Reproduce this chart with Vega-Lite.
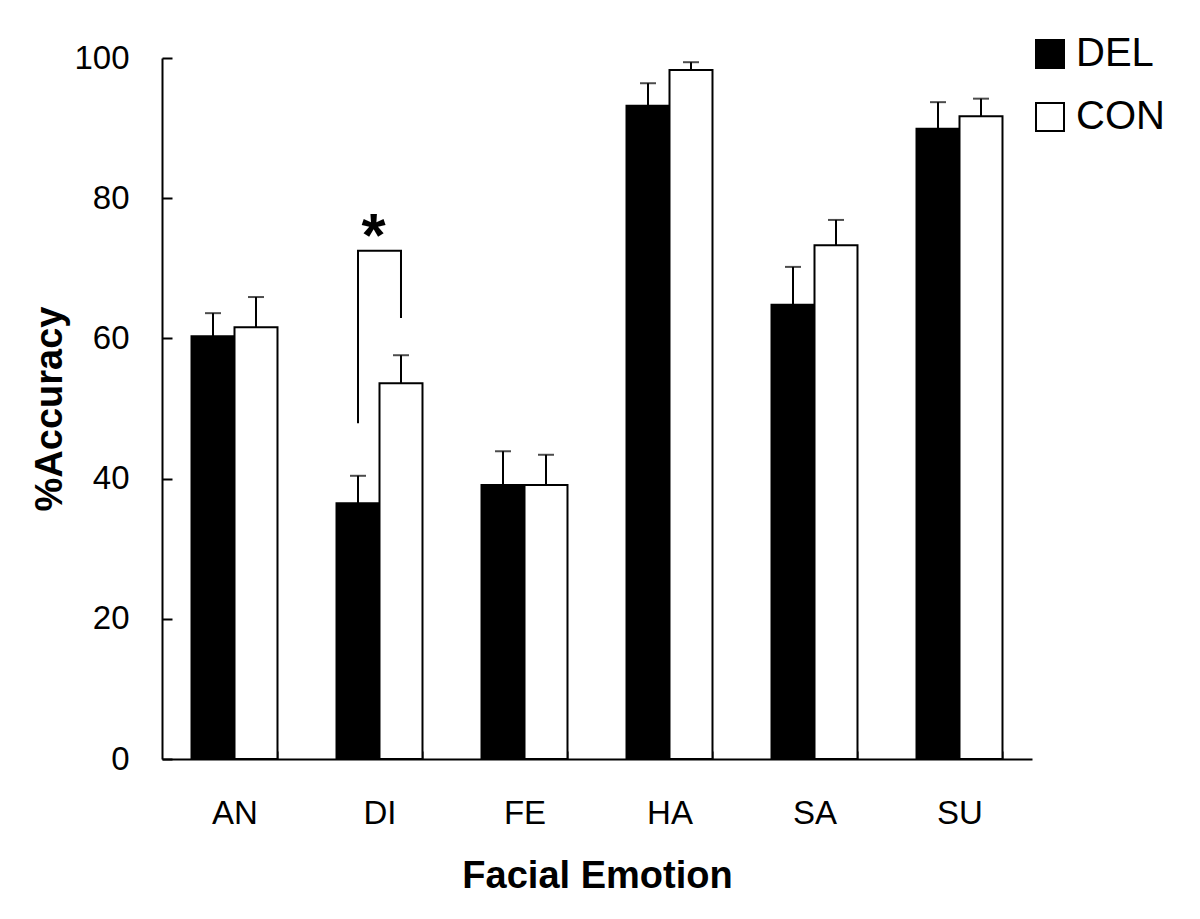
{
  "$schema": "https://vega.github.io/schema/vega-lite/v6.json",
  "width": 870,
  "height": 701,
  "autosize": "none",
  "padding": {"left": 162, "top": 58, "right": 168, "bottom": 160},
  "background": "white",
  "config": {"view": {"stroke": null}, "font": "Liberation Sans"},
  "layer": [
    {
      "data": {"name": "bars", "values": [
        {"emotion": "AN", "group": "DEL", "value": 60.3, "upper": 63.6},
        {"emotion": "AN", "group": "CON", "value": 61.6, "upper": 65.9},
        {"emotion": "DI", "group": "DEL", "value": 36.5, "upper": 40.4},
        {"emotion": "DI", "group": "CON", "value": 53.6, "upper": 57.6},
        {"emotion": "FE", "group": "DEL", "value": 39.1, "upper": 43.9},
        {"emotion": "FE", "group": "CON", "value": 39.1, "upper": 43.4},
        {"emotion": "HA", "group": "DEL", "value": 93.2, "upper": 96.4},
        {"emotion": "HA", "group": "CON", "value": 98.3, "upper": 99.4},
        {"emotion": "SA", "group": "DEL", "value": 64.8, "upper": 70.2},
        {"emotion": "SA", "group": "CON", "value": 73.3, "upper": 76.9},
        {"emotion": "SU", "group": "DEL", "value": 89.9, "upper": 93.7},
        {"emotion": "SU", "group": "CON", "value": 91.7, "upper": 94.2}
      ]},
      "encoding": {
        "x": {"field": "emotion", "type": "nominal", "sort": ["AN", "DI", "FE", "HA", "SA", "SU"],
              "scale": {"paddingInner": 0.407, "paddingOuter": 0.2035},
              "title": "Facial Emotion",
              "axis": {"labelAngle": 0, "domainColor": "black", "domainWidth": 2, "tickColor": "black", "tickWidth": 2,
                       "tickSize": -8, "tickBand": "extent", "labelFontSize": 33, "labelColor": "black", "labelPadding": 46,
                       "titleFontSize": 38, "titleFontWeight": "bold", "titleColor": "black", "titlePadding": 27}},
        "xOffset": {"field": "group", "type": "nominal", "sort": ["DEL", "CON"]}
      },
      "layer": [
        {
          "mark": {"type": "bar", "stroke": "black", "strokeWidth": 2},
          "encoding": {
            "y": {"field": "value", "type": "quantitative", "scale": {"domain": [0, 100]}, "title": "%Accuracy",
                  "axis": {"values": [0, 20, 40, 60, 80, 100], "grid": false, "domainColor": "black", "domainWidth": 2,
                           "tickColor": "black", "tickWidth": 2, "tickSize": -10, "labelFontSize": 33, "labelColor": "black",
                           "labelPadding": 43, "titleFontSize": 38, "titleFontWeight": "bold", "titleColor": "black", "titlePadding": 4}},
            "fill": {"field": "group", "type": "nominal", "sort": ["DEL", "CON"], "scale": {"range": ["black", "white"]},
                     "legend": {"orient": "none", "legendX": 868, "legendY": -24, "title": null, "symbolType": "square",
                                "symbolSize": 784, "symbolStrokeColor": "black", "symbolStrokeWidth": 2,
                                "labelFontSize": 40, "labelColor": "black", "labelOffset": 6, "rowPadding": 23}}
          }
        },
        {
          "mark": {"type": "rule", "strokeWidth": 2, "color": "black"},
          "encoding": {"y": {"field": "value", "type": "quantitative"}, "y2": {"field": "upper"}}
        },
        {
          "mark": {"type": "tick", "size": 16, "thickness": 2, "color": "black"},
          "encoding": {"y": {"field": "upper", "type": "quantitative"}}
        }
      ]
    },
    {
      "data": {"name": "bracket", "values": [
        {"emotion": "DI", "group": "DEL", "value": 47.9, "order": 1},
        {"emotion": "DI", "group": "DEL", "value": 72.5, "order": 2},
        {"emotion": "DI", "group": "CON", "value": 72.5, "order": 3},
        {"emotion": "DI", "group": "CON", "value": 62.9, "order": 4}
      ]},
      "mark": {"type": "line", "color": "black", "strokeWidth": 2},
      "encoding": {
        "x": {"field": "emotion", "type": "nominal", "sort": ["AN", "DI", "FE", "HA", "SA", "SU"]},
        "xOffset": {"field": "group", "type": "nominal", "sort": ["DEL", "CON"]},
        "y": {"field": "value", "type": "quantitative"},
        "order": {"field": "order", "type": "quantitative"}
      }
    },
    {
      "data": {"name": "star", "values": [{"emotion": "DI", "label": "*", "value": 76.2}]},
      "mark": {"type": "text", "fontSize": 62, "fontWeight": "bold", "color": "black", "baseline": "middle", "dy": 12, "dx": -6},
      "encoding": {
        "x": {"field": "emotion", "type": "nominal", "sort": ["AN", "DI", "FE", "HA", "SA", "SU"]},
        "y": {"field": "value", "type": "quantitative"},
        "text": {"field": "label"}
      }
    }
  ]
}
